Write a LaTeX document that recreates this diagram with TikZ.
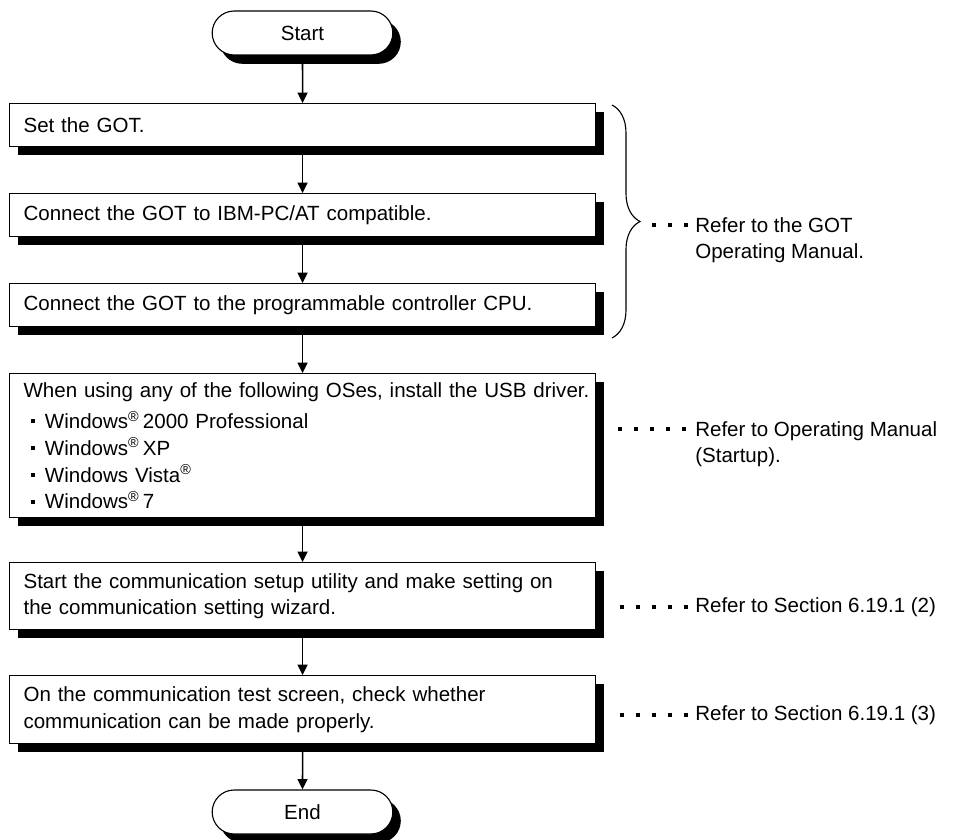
\documentclass[tikz,border=0pt]{standalone}
\usepackage{fontspec}
\setmainfont{Liberation Sans}
\usetikzlibrary{shapes.misc,shadows,arrows.meta,decorations.pathreplacing}

\newcommand{\reg}{\textsuperscript{\textregistered}}
\newcommand{\ositem}[1]{\hspace*{1.75mm}\rule[1.3mm]{1mm}{1mm}\hspace{2.6mm}#1}

\begin{document}
\begin{tikzpicture}[x=0.25mm, y=-0.25mm, >={Triangle[length=2.6mm,width=2.5mm]},
		font=\fontsize{14.6}{19}\selectfont,
		shade/.style={drop shadow={shadow xshift=2mm, shadow yshift=-2.2mm, fill=black, opacity=1}},
		stepbox/.style={draw, line width=0.8pt, fill=white, shade, anchor=north west, align=left,
			text width=139.5mm, inner xsep=3.5mm, minimum height=#1},
		term/.style={rounded rectangle, draw, line width=0.8pt, fill=white, shade,
			minimum width=47.5mm, minimum height=11mm},
		ref/.style={anchor=north west, align=left, inner sep=0pt},
		dots/.style={line width=1mm, dash pattern=on 1mm off 3mm}]
	\useasboundingbox (0,0) rectangle (956,840);

	% terminals
	\node[term] (start) at (302.5,33) {Start};
	\node[term] (end) at (302.5,812) {End};

	% steps
	\node[stepbox=10.75mm] (b1) at (9,103) {Set the GOT.};
	\node[stepbox=10.75mm] (b2) at (9,193) {Connect the GOT to IBM-PC/AT compatible.};
	\node[stepbox=10.75mm] (b3) at (9,283) {Connect the GOT to the programmable controller CPU.};
	\node[stepbox=36mm] (b4) at (9,373) {\mbox{When using any of the following OSes, install the USB driver.}\\[1.2mm]
		\ositem{Windows\reg\,2000 Professional}\\
		\ositem{Windows\reg\,XP}\\
		\ositem{Windows Vista\reg}\\
		\ositem{Windows\reg\,7}};
	\node[stepbox=16.75mm] (b5) at (9,562) {Start the communication setup utility and make setting on\\the communication setting wizard.};
	\node[stepbox=17mm] (b6) at (9,675) {On the communication test screen, check whether\\communication can be made properly.};

	\foreach \a/\b in {start/b1, b1/b2, b2/b3, b3/b4, b4/b5, b5/b6, b6/end} {
		\draw[->, line width=1.1pt] (\a.south) -- (\b.north);
	}

	% references on the right
	\draw[decorate, decoration={brace, amplitude=7mm}, line width=0.8pt] (612,105) -- (612,338);
	\node[ref] (r1) at (695,217) {Refer to the GOT\\Operating Manual.};
	\node[ref] (r2) at (695,421) {Refer to Operating Manual\\(Startup).};
	\node[ref, anchor=west] (r3) at (695,607) {Refer to Section 6.19.1 (2)};
	\node[ref, anchor=west] (r4) at (695,715) {Refer to Section 6.19.1 (3)};

	\coordinate (d1) at (652,225);
	\coordinate (d2) at (618,429);
	\coordinate (d3) at (620,607);
	\coordinate (d4) at (620,715);
	\foreach \d/\r in {d1/r1, d2/r2, d3/r3, d4/r4} {
		\draw[dots] (\d) -- ([xshift=-1.5mm]\d -| \r.west);
	}
\end{tikzpicture}
\end{document}
